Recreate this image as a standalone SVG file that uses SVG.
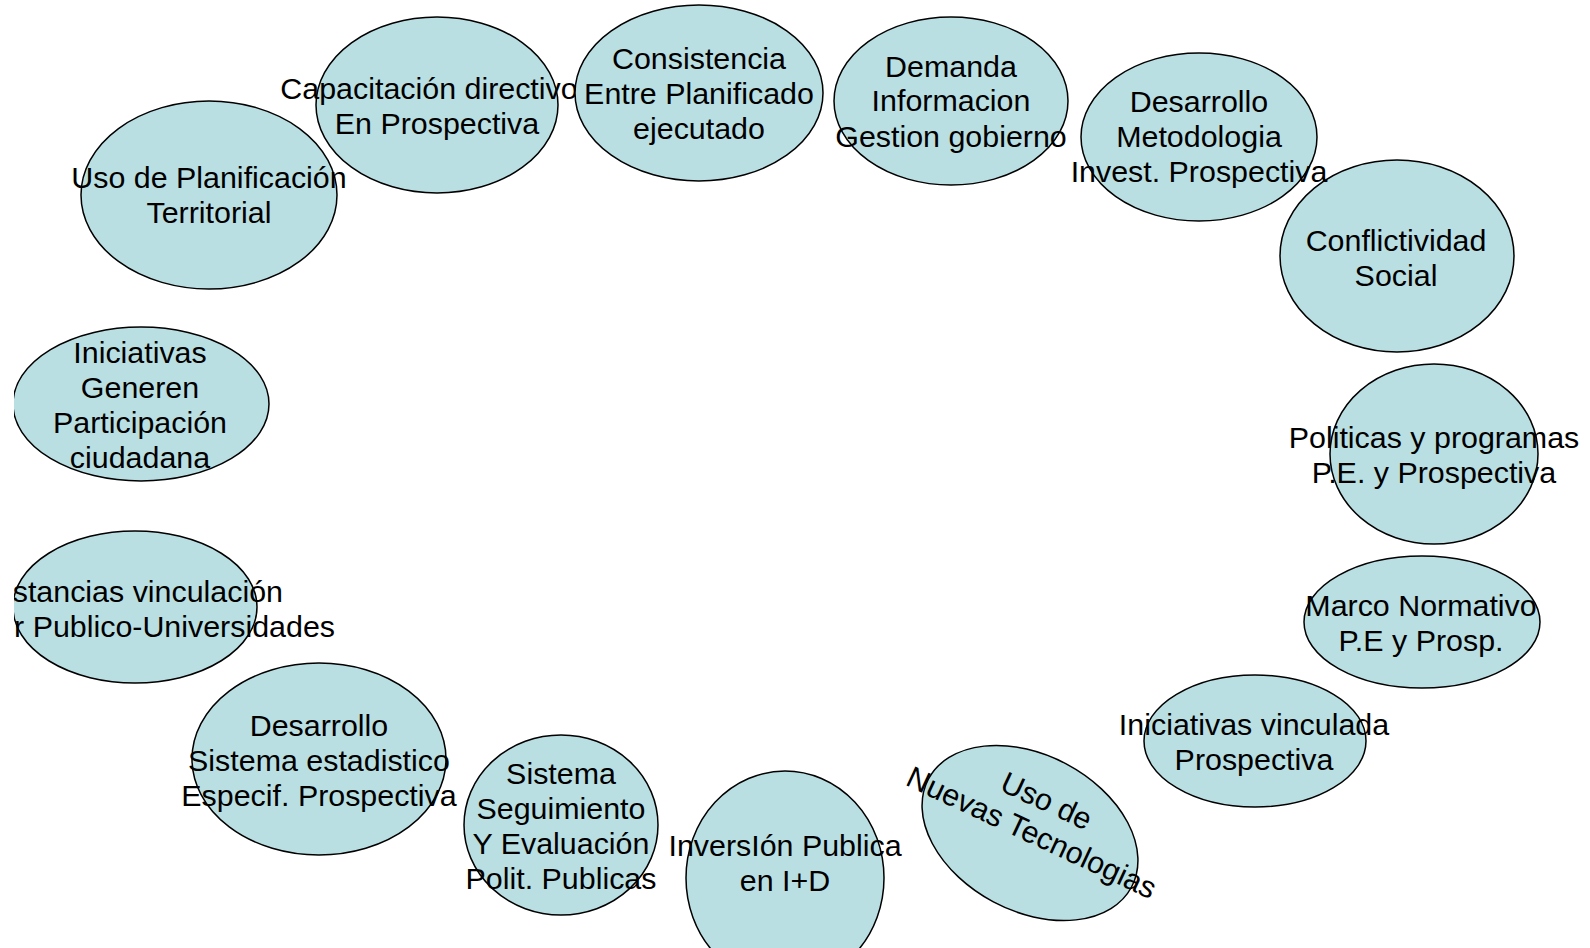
<svg xmlns="http://www.w3.org/2000/svg" width="1590" height="948" viewBox="0 0 1590 948">
  <defs>
    <style>
      .bubble { fill: #b9dfe3; stroke: #000000; stroke-width: 1.5; }
      .label { font-family: "Liberation Sans", Arial, sans-serif; font-size: 30.4px; fill: #000000; text-anchor: middle; }
      .label-end { text-anchor: end; }
    </style>
    <clipPath id="sheet">
      <rect x="14" y="0" width="1576" height="948"/>
    </clipPath>
  </defs>
  <rect width="1590" height="948" fill="#ffffff"/>
  <!-- no connectors in this ring of factors -->
  <g id="connectors"/>
  <g clip-path="url(#sheet)">
    <g id="node-uso-planificacion">
      <ellipse class="bubble" cx="209" cy="195" rx="128" ry="94"/>
      <text class="label" x="209" y="188">Uso de Planificación</text>
      <text class="label" x="209" y="223">Territorial</text>
    </g>
    <g id="node-capacitacion">
      <ellipse class="bubble" cx="437" cy="105" rx="121" ry="88"/>
      <text class="label" x="429" y="99">Capacitación directivo</text>
      <text class="label" x="437" y="134">En Prospectiva</text>
    </g>
    <g id="node-consistencia">
      <ellipse class="bubble" cx="699" cy="93" rx="124" ry="88"/>
      <text class="label" x="699" y="69">Consistencia</text>
      <text class="label" x="699" y="104">Entre Planificado</text>
      <text class="label" x="699" y="139">ejecutado</text>
    </g>
    <g id="node-demanda">
      <ellipse class="bubble" cx="951" cy="101" rx="117" ry="84"/>
      <text class="label" x="951" y="77">Demanda</text>
      <text class="label" x="951" y="111">Informacion</text>
      <text class="label" x="951" y="147">Gestion gobierno</text>
    </g>
    <g id="node-conflictividad">
      <ellipse class="bubble" cx="1397" cy="256" rx="117" ry="96"/>
      <text class="label" x="1396" y="251">Conflictividad</text>
      <text class="label" x="1396" y="286">Social</text>
    </g>
    <g id="node-desarrollo-metodologia">
      <ellipse class="bubble" cx="1199" cy="137" rx="118" ry="84"/>
      <text class="label" x="1199" y="112">Desarrollo</text>
      <text class="label" x="1199" y="147">Metodologia</text>
      <text class="label" x="1199" y="182">Invest. Prospectiva</text>
    </g>
    <g id="node-politicas">
      <ellipse class="bubble" cx="1434" cy="454" rx="104" ry="90"/>
      <text class="label" x="1434" y="448">Politicas y programas</text>
      <text class="label" x="1434" y="483">P.E. y Prospectiva</text>
    </g>
    <g id="node-marco-normativo">
      <ellipse class="bubble" cx="1422" cy="622" rx="118" ry="66"/>
      <text class="label" x="1421" y="616">Marco Normativo</text>
      <text class="label" x="1421" y="651">P.E y Prosp.</text>
    </g>
    <g id="node-iniciativas-vinculada">
      <ellipse class="bubble" cx="1255" cy="741" rx="111" ry="66"/>
      <text class="label" x="1254" y="735">Iniciativas vinculada</text>
      <text class="label" x="1254" y="770">Prospectiva</text>
    </g>
    <g id="node-nuevas-tecnologias">
      <ellipse class="bubble" cx="0" cy="0" rx="115" ry="78" transform="translate(1030 833) rotate(28)"/>
      <g transform="translate(1032 832) rotate(25)">
        <text class="label" x="0" y="-24">Uso de</text>
        <text class="label" x="0" y="11">Nuevas Tecnologias</text>
      </g>
    </g>
    <g id="node-inversion">
      <ellipse class="bubble" cx="785" cy="878" rx="99" ry="107"/>
      <text class="label" x="785" y="856">InversIón Publica</text>
      <text class="label" x="785" y="891">en I+D</text>
    </g>
    <g id="node-sistema-seguimiento">
      <ellipse class="bubble" cx="561" cy="825" rx="97" ry="90"/>
      <text class="label" x="561" y="784">Sistema</text>
      <text class="label" x="561" y="819">Seguimiento</text>
      <text class="label" x="561" y="854">Y Evaluación</text>
      <text class="label" x="561" y="889">Polit. Publicas</text>
    </g>
    <g id="node-sistema-estadistico">
      <ellipse class="bubble" cx="319" cy="759" rx="127" ry="96"/>
      <text class="label" x="319" y="736">Desarrollo</text>
      <text class="label" x="319" y="771">Sistema estadistico</text>
      <text class="label" x="319" y="806">Especif. Prospectiva</text>
    </g>
    <g id="node-instancias">
      <ellipse class="bubble" cx="135" cy="607" rx="122" ry="76"/>
      <text class="label label-end" x="283" y="602">stancias vinculación</text>
      <text class="label label-end" x="335" y="637">r Publico-Universidades</text>
    </g>
    <g id="node-iniciativas-participacion">
      <ellipse class="bubble" cx="141" cy="404" rx="128" ry="77"/>
      <text class="label" x="140" y="363">Iniciativas</text>
      <text class="label" x="140" y="398">Generen</text>
      <text class="label" x="140" y="433">Participación</text>
      <text class="label" x="140" y="468">ciudadana</text>
    </g>
  </g>
</svg>
